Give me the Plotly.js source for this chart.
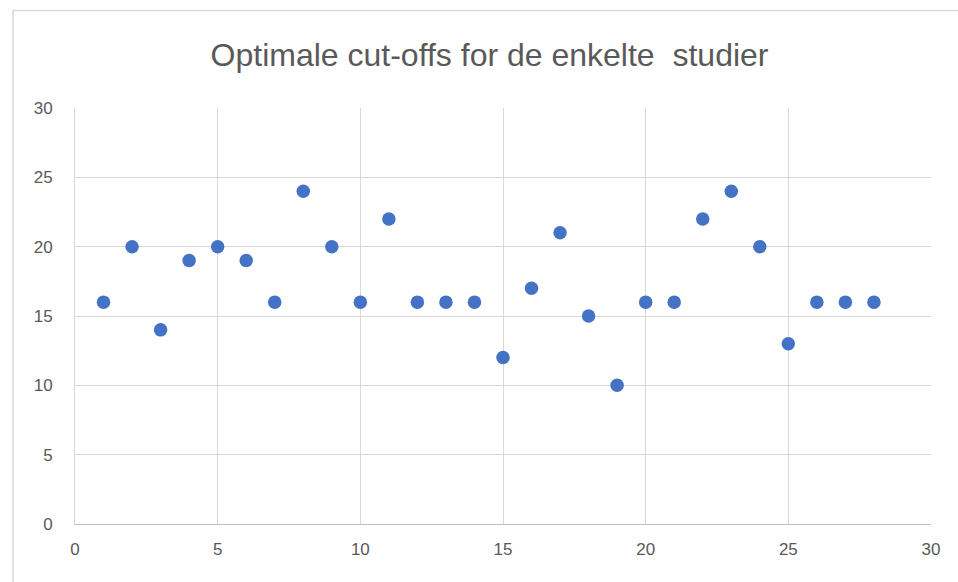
<!DOCTYPE html>
<html>
<head>
<meta charset="utf-8">
<script src="https://cdn.plot.ly/plotly-3.0.1.min.js"></script>
<style>
html,body{margin:0;padding:0;background:#fff;}
#chart{width:958px;height:582px;}
</style>
</head>
<body>
<div id="chart"></div>
<script>
const studies = [1,2,3,4,5,6,7,8,9,10,11,12,13,14,15,16,17,18,19,20,21,22,23,24,25,26,27,28];
const cutoffs = [16,20,14,19,20,19,16,24,20,16,22,16,16,16,12,17,21,15,10,16,16,22,24,20,13,16,16,16];
const tickVals = [0,5,10,15,20,25,30];

const trace = {
  x: studies, y: cutoffs, type: 'scatter', mode: 'markers',
  marker: {color: '#4472C4', size: 13.5}
};

const axisFont = {family: 'Liberation Sans, Arial, sans-serif', size: 17, color: '#595959'};

const layout = {
  width: 958, height: 582,
  margin: {l: 75, r: 27, t: 108, b: 58},
  paper_bgcolor: '#fff', plot_bgcolor: '#fff',
  showlegend: false,
  title: {
    text: 'Optimale cut-offs for de enkelte  studier',
    font: {family: 'Liberation Sans, Arial, sans-serif', size: 32, color: '#595959'},
    x: 0.511, xanchor: 'center', y: 0.905, yanchor: 'middle'
  },
  xaxis: {
    range: [0, 30], tickvals: tickVals, showgrid: true, gridcolor: '#d9d9d9', gridwidth: 1,
    zeroline: false, showline: true, linecolor: '#bfbfbf', linewidth: 1,
    ticks: '', tickfont: axisFont, ticklabelstandoff: 10, fixedrange: true
  },
  yaxis: {
    range: [0, 30], tickvals: tickVals, showgrid: true, gridcolor: '#d9d9d9', gridwidth: 1,
    zeroline: false, showline: true, linecolor: '#d9d9d9', linewidth: 1,
    ticks: '', tickfont: axisFont, ticklabelstandoff: 18, fixedrange: true
  },
  shapes: [{
    type: 'rect', xref: 'paper', yref: 'paper',
    x0: -62/856, x1: 1.2, y0: -0.3, y1: (524-10.5)/416,
    line: {color: '#d9d9d9', width: 1.5}, fillcolor: 'rgba(0,0,0,0)', layer: 'below'
  }]
};

Plotly.newPlot('chart', [trace], layout, {displayModeBar: false, staticPlot: true});
</script>
</body>
</html>
